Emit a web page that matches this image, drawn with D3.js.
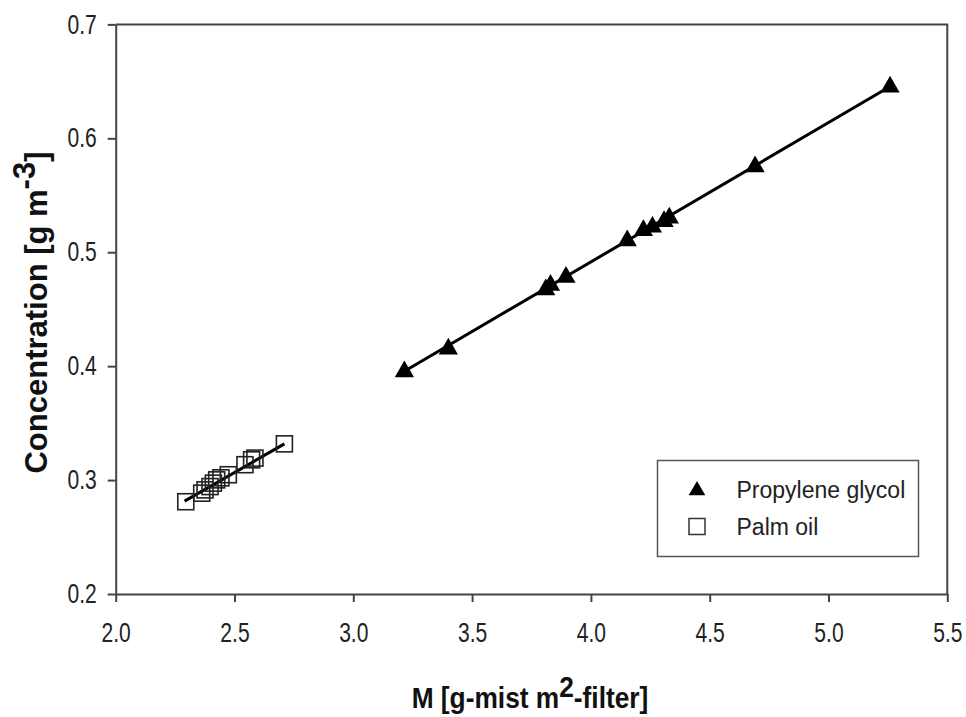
<!DOCTYPE html>
<html>
<head>
<meta charset="utf-8">
<script src="https://cdn.jsdelivr.net/npm/d3@7"></script>
<style>
  body { margin: 0; background: #fff; }
  svg { display: block; }
  .axis path, .axis line { stroke: #444; stroke-width: 2; }
  .axis text { font-family: "Liberation Sans", Arial, sans-serif; font-size: 27px; fill: #222; }
</style>
</head>
<body>
<svg id="chart" width="966" height="717"></svg>
<script>
// propylene glycol (triangles)
var pgM = [3.215, 3.40, 3.81, 3.83, 3.895, 4.153, 4.221, 4.259, 4.308, 4.330, 4.691, 5.259];
var pgC = [0.396, 0.416, 0.468, 0.472, 0.479, 0.511, 0.520, 0.523, 0.528, 0.531, 0.576, 0.646];
// palm oil (open squares)
var palmM = [2.295, 2.362, 2.376, 2.397, 2.411, 2.425, 2.443, 2.474, 2.544, 2.572, 2.586, 2.71];
var palmC = [0.281, 0.2885, 0.2914, 0.2943, 0.2973, 0.3002, 0.302, 0.3047, 0.3135, 0.3178, 0.3193, 0.3318];
// fitted lines, end points
var pgFitM = [3.215, 5.259];
var pgFitC = [0.3955, 0.6455];
var palmFitM = [2.29, 2.71];
var palmFitC = [0.2815, 0.3318];

var xTicks = [2.0, 2.5, 3.0, 3.5, 4.0, 4.5, 5.0, 5.5];
var yTicks = [0.2, 0.3, 0.4, 0.5, 0.6, 0.7];
var legendNames = ["Propylene glycol", "Palm oil"];

var svg = d3.select('#chart');
var margin = {top: 24.4, right: 18.7, bottom: 123, left: 115.7};
var W = 966 - margin.left - margin.right,
    H = 717 - margin.top - margin.bottom;
var narrow = 0.78; // tick labels in the original are a condensed face

var x = d3.scaleLinear().domain([2.0, 5.5]).range([0, W]);
var y = d3.scaleLinear().domain([0.2, 0.7]).range([H, 0]);

var g = svg.append('g')
    .attr('transform', 'translate(' + margin.left + ',' + margin.top + ')');

// frame: top and right sides
g.append('path')
    .attr('d', 'M0,0H' + W + 'V' + H)
    .attr('fill', 'none')
    .attr('stroke', '#444')
    .attr('stroke-width', 2);

g.append('g')
    .attr('class', 'axis')
    .attr('transform', 'translate(0,' + H + ')')
    .call(d3.axisBottom(x).tickValues(xTicks).tickFormat(d3.format('.1f'))
        .tickSize(8).tickSizeOuter(0).tickPadding(21))
    .selectAll('text')
    .attr('transform', 'scale(' + narrow + ',1)');

g.append('g')
    .attr('class', 'axis')
    .call(d3.axisLeft(y).tickValues(yTicks).tickFormat(d3.format('.1f'))
        .tickSize(8).tickSizeOuter(0).tickPadding(11))
    .selectAll('text')
    .attr('x', -19 / narrow)
    .attr('transform', 'scale(' + narrow + ',1)');

// fitted lines
var line = d3.line()
    .x(function(d) { return x(d[0]); })
    .y(function(d) { return y(d[1]); });

g.append('path')
    .datum(d3.zip(pgFitM, pgFitC))
    .attr('d', line)
    .attr('fill', 'none').attr('stroke', '#000').attr('stroke-width', 3);

g.append('path')
    .datum(d3.zip(palmFitM, palmFitC))
    .attr('d', line)
    .attr('fill', 'none').attr('stroke', '#000').attr('stroke-width', 3);

var tri = d3.symbol().type(d3.symbolTriangle).size(160);

g.selectAll('.pg')
    .data(d3.zip(pgM, pgC))
    .enter().append('path')
    .attr('class', 'pg')
    .attr('d', tri)
    .attr('transform', function(d) { return 'translate(' + x(d[0]) + ',' + (y(d[1]) + 1) + ')'; })
    .attr('fill', '#000');

g.selectAll('.palm')
    .data(d3.zip(palmM, palmC))
    .enter().append('rect')
    .attr('class', 'palm')
    .attr('x', function(d) { return x(d[0]) - 8; })
    .attr('y', function(d) { return y(d[1]) - 8; })
    .attr('width', 16).attr('height', 16)
    .attr('fill', 'none')
    .attr('stroke', '#222')
    .attr('stroke-width', 1.6);

// legend
var lg = svg.append('g')
    .attr('transform', 'translate(657.5,460.5)');
lg.append('rect')
    .attr('width', 261).attr('height', 96)
    .attr('fill', '#fff').attr('stroke', '#555').attr('stroke-width', 1.5);
lg.append('path')
    .attr('d', d3.symbol().type(d3.symbolTriangle).size(120))
    .attr('transform', 'translate(39.5,30)')
    .attr('fill', '#000');
lg.append('rect')
    .attr('x', 31.5).attr('y', 58).attr('width', 16).attr('height', 16)
    .attr('fill', 'none').attr('stroke', '#333').attr('stroke-width', 1.5);
lg.selectAll('.lgtext')
    .data(legendNames)
    .enter().append('text')
    .attr('x', 79)
    .attr('y', function(d, i) { return 29 + i * 37; })
    .attr('dy', '0.35em')
    .style('font-family', '"Liberation Sans", Arial, sans-serif')
    .style('font-size', '23px')
    .style('fill', '#222')
    .text(function(d) { return d; });

// axis titles
var xt = svg.append('text')
    .attr('transform', 'translate(530,708) scale(0.877,1)')
    .attr('text-anchor', 'middle')
    .style('font-family', '"Liberation Sans", Arial, sans-serif')
    .style('font-weight', 'bold')
    .style('font-size', '30px')
    .style('fill', '#111');
xt.append('tspan').text('M [g-mist m');
xt.append('tspan').attr('dy', -11).text('2');
xt.append('tspan').attr('dy', 11).text('-filter]');

var yt = svg.append('text')
    .attr('transform', 'translate(47,312.5) rotate(-90)')
    .attr('text-anchor', 'middle')
    .style('font-family', '"Liberation Sans", Arial, sans-serif')
    .style('font-weight', 'bold')
    .style('font-size', '31px')
    .style('fill', '#111');
yt.append('tspan').text('Concentration [g m');
yt.append('tspan').attr('dy', -12).text('-3');
yt.append('tspan').attr('dy', 12).text(']');
</script>
</body>
</html>
